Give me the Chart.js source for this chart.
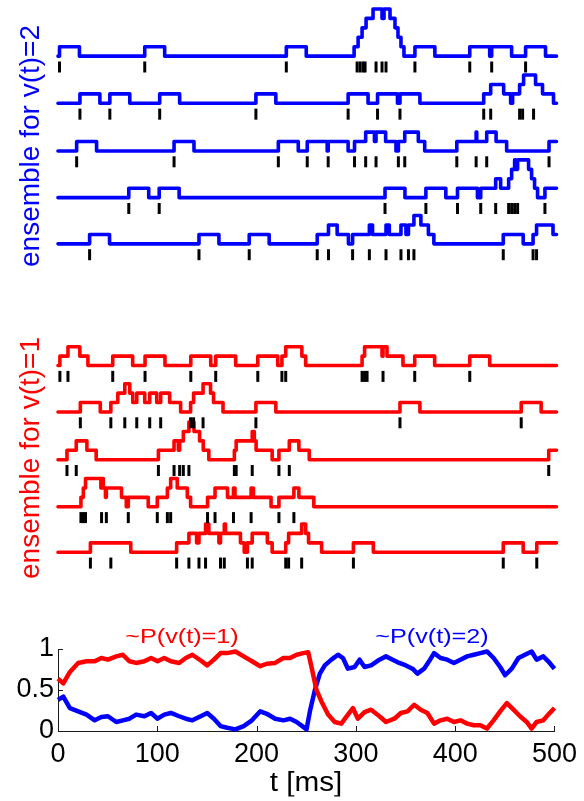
<!DOCTYPE html>
<html><head><meta charset="utf-8">
<script src="https://cdn.jsdelivr.net/npm/chart.js@4.4.1/dist/chart.umd.min.js"></script>
<style>
html,body{margin:0;padding:0;background:#fff;width:584px;height:801px;overflow:hidden;font-family:"Liberation Sans",Arial,Helvetica,sans-serif}
canvas{position:absolute;left:0}
.lab{position:absolute;white-space:nowrap;line-height:1}
</style></head><body>
<canvas id="cBlue" width="584" height="300" style="top:0px"></canvas>
<canvas id="cRed" width="584" height="290" style="top:310px"></canvas>
<canvas id="cP" width="584" height="201" style="top:600px"></canvas>
<div class="lab" style="left:30px;top:146px;transform:translate(-50%,-50%) rotate(-90deg);color:#0000ff;font-size:28px">ensemble for v(t)=2</div>
<div class="lab" style="left:30px;top:458px;transform:translate(-50%,-50%) rotate(-90deg);color:#ff0000;font-size:28px">ensemble for v(t)=1</div>
<div class="lab" style="left:182px;top:635px;transform:translate(-50%,-50%) scaleX(1.2);color:#ff0000;font-size:21px">~P(v(t)=1)</div>
<div class="lab" style="left:432px;top:635px;transform:translate(-50%,-50%) scaleX(1.2);color:#0000ff;font-size:21px">~P(v(t)=2)</div>
<div class="lab" style="left:306px;top:782px;transform:translate(-50%,-50%) scaleX(1.1);color:#000;font-size:27px">t [ms]</div>
<script>
// ---------- data ----------
const xTicks = [0, 100, 200, 300, 400, 500];
const yTicks = [0, 0.5, 1];

// spike times (ms) for the v(t)=2 ensemble
const blueSpikes1 = [1.5, 87, 229, 300, 303, 306, 308, 319, 325, 329, 358, 413, 435, 469];
const blueSpikes2 = [22, 52, 102, 198.5, 291, 320.5, 343, 427, 434, 463, 466, 477];
const blueSpikes3 = [18.7, 116.4, 221, 250, 271, 297.4, 308.6, 319, 341.4, 347.8, 400, 419.4, 430, 492.5];
const blueSpikes4 = [71, 101.5, 328, 369, 400.7, 424, 439, 452, 455, 458, 461, 488.4];
const blueSpikes5 = [31.7, 141.4, 191.8, 260, 271.3, 295.5, 312.3, 329, 344, 351.5, 357, 446.6, 476.5, 480];

// step traces [t, level] for the v(t)=2 ensemble (level holds from t onward)
const blueTrace1 = [[0,0],[1.5,1],[21.5,0],[87,1],[107,0],[229,1],[249,0],[297,1],[301,2],[305,3],[309,4],[316,5],[325,4],[327,5],[333,4],[338,3],[341,2],[344,1],[347,0],[358,1],[378,0],[413,1],[433,0],[435,1],[455,0],[469,1],[489,0],[500,0]];
const blueTrace2 = [[0,0],[22,1],[42,0],[52,1],[72,0],[102,1],[122,0],[198.5,1],[218.5,0],[291,1],[311,0],[320.5,1],[340.5,0],[343,1],[363,0],[427,1],[434,2],[447,1],[454,0],[456,1],[463,2],[467,3],[479,2],[486,1],[497,0],[500,0]];
const blueTrace3 = [[0,0],[18.7,1],[38.7,0],[116.4,1],[136.4,0],[221,1],[241,0],[250,1],[270,0],[271,1],[291,0],[297.4,1],[308.6,2],[317.4,1],[319,2],[328.6,1],[339,0],[341.4,1],[347.8,2],[361.4,1],[367.8,0],[400,1],[419.4,2],[420,1],[430,2],[439.4,1],[450,0],[492.5,1],[500,1]];
const blueTrace4 = [[0,0],[71,1],[91,0],[101.5,1],[121.5,0],[328,1],[348,0],[369,1],[389,0],[400.7,1],[420.7,0],[424,1],[439,2],[444,1],[452,2],[455,3],[458,4],[459,3],[461,4],[472,3],[475,2],[478,1],[481,0],[488.4,1],[500,1]];
const blueTrace5 = [[0,0],[31.7,1],[51.7,0],[141.4,1],[161.4,0],[191.8,1],[211.8,0],[260,1],[271.3,2],[280,1],[291.3,0],[295.5,1],[312.3,2],[315.5,1],[329,2],[332.3,1],[344,2],[349,1],[351.5,2],[357,3],[364,2],[371.5,1],[377,0],[446.6,1],[466.6,0],[476.5,1],[480,2],[496.5,1],[500,1]];

// spike times (ms) for the v(t)=1 ensemble
const redSpikes1 = [1.9, 10, 54.9, 87.3, 133.2, 158.2, 200.4, 224.6, 228.4, 305, 307.5, 310, 326, 357.8, 413];
const redSpikes2 = [22.4, 53, 67, 79, 92, 103, 133, 136, 145.5, 198.5, 343, 464.6];
const redSpikes3 = [9, 18.3, 100.7, 116.4, 122, 125.7, 131.3, 176.9, 178.7, 194.8, 221.6, 232, 492.2];
const redSpikes4 = [23, 25.4, 27.6, 43.7, 48.5, 70.5, 99.6, 109.7, 113, 150, 157.5, 176, 193.7, 221.6, 236.6];
const redSpikes5 = [32.5, 53, 119, 131.3, 141.4, 148, 163, 166.8, 190, 194.8, 228.4, 231.3, 244.4, 296.3, 446.6, 480.2];

// step traces [t, level] for the v(t)=1 ensemble
const redTrace1 = [[0,0],[1.9,1],[10,2],[21.9,1],[30,0],[54.9,1],[74.9,0],[87.3,1],[107.3,0],[133.2,1],[153.2,0],[158.2,1],[178.2,0],[200.4,1],[220.4,0],[224.6,1],[228.4,2],[244.6,1],[248.4,0],[305,1],[307.5,2],[325,1],[326,2],[330,1],[346,0],[357.8,1],[377.8,0],[413,1],[433,0],[500,0]];
const redTrace2 = [[0,0],[22.4,1],[42.4,0],[53,1],[60,2],[67,3],[72,2],[75,1],[79,2],[87,1],[92,2],[99,1],[103,2],[112,1],[123,0],[133,1],[136,2],[145.5,3],[153,2],[156,1],[165.5,0],[198.5,1],[218.5,0],[343,1],[363,0],[464.6,1],[484.6,0],[500,0]];
const redTrace3 = [[0,0],[9,1],[18.3,2],[29,1],[38.3,0],[100.7,1],[116.4,2],[120.7,1],[122,2],[125.7,3],[131.3,4],[136.4,3],[142,2],[145.7,1],[151.3,0],[176.9,1],[178.7,2],[194.8,3],[196.9,2],[198.7,1],[214.8,0],[221.6,1],[232,2],[241.6,1],[252,0],[492.2,1],[500,1]];
const redTrace4 = [[0,0],[23,1],[25.4,2],[27.6,3],[43,2],[43.7,3],[45.4,2],[47.6,1],[48.5,2],[63.7,1],[68.5,0],[70.5,1],[90.5,0],[99.6,1],[109.7,2],[113,3],[119.6,2],[129.7,1],[133,0],[150,1],[157.5,2],[170,1],[176,2],[177.5,1],[193.7,2],[196,1],[213.7,0],[221.6,1],[236.6,2],[241.6,1],[256.6,0],[500,0]];
const redTrace5 = [[0,0],[32.5,1],[73,0],[119,1],[131.3,2],[139,1],[141.4,2],[148,3],[151.3,2],[161.4,1],[163,2],[166.8,3],[168,2],[183,1],[186.8,0],[190,1],[194.8,2],[210,1],[214.8,0],[228.4,1],[231.3,2],[244.4,3],[248.4,2],[251.3,1],[264.4,0],[296.3,1],[316.3,0],[446.6,1],[466.6,0],[480.2,1],[500,1]];

// posterior probability estimates
const tRed = [0,5.3,12,20.3,28.7,37,43.7,50.3,58.7,65.3,72,78.7,87,93.7,100.3,107,113.7,122,128.7,135.3,143.7,150.3,157,163.7,170.3,178.7,187,195.3,203.7,210.3,218.7,227,233.7,240.3,247,252,255.3,260.3,265.3,272,278.7,285.3,292,297,302,308.7,315.3,323.7,330.3,338.7,345.3,352,358.7,365.3,372,378.7,385.3,392,398.7,405.3,412,418.7,425.3,432,438.7,445.3,452,458.7,465.3,472,477,482,488.7,493.7,500];
const pRed = [0.64,0.58,0.72,0.83,0.85,0.85,0.89,0.87,0.91,0.93,0.85,0.83,0.85,0.89,0.85,0.89,0.85,0.83,0.89,0.93,0.86,0.80,0.87,0.95,0.95,0.97,0.91,0.85,0.79,0.82,0.83,0.89,0.89,0.93,0.95,0.96,0.78,0.5,0.36,0.2,0.11,0.09,0.2,0.28,0.15,0.23,0.26,0.18,0.11,0.15,0.22,0.24,0.32,0.26,0.22,0.09,0.13,0.15,0.11,0.13,0.09,0.07,0.07,0.03,0.13,0.24,0.34,0.26,0.18,0.11,0.03,0.11,0.13,0.2,0.28];
const tBlue = [0,5.3,12,20.3,28.7,37,43.7,50.3,58.7,65.3,72,78.7,87,93.7,100.3,107,113.7,122,128.7,135.3,143.7,150.3,157,163.7,170.3,178.7,187,195.3,203.7,210.3,218.7,227,233.7,240.3,247,250.3,253.7,258.7,263.7,268.7,275.3,282,287,292,298.7,303.7,308.7,315.3,323.7,330.3,337,343.7,350.3,357,362,368.7,373.7,378.7,385.3,392,398.7,405.3,412,418.7,425.3,432,438.7,445.3,450.3,457,463.7,470.3,477,482,488.7,493.7,500];
const pBlue = [0.38,0.42,0.28,0.24,0.2,0.13,0.17,0.18,0.11,0.13,0.15,0.2,0.18,0.22,0.15,0.2,0.22,0.18,0.15,0.13,0.18,0.22,0.15,0.06,0.04,0.02,0.06,0.13,0.24,0.21,0.15,0.13,0.15,0.11,0.05,0.02,0.24,0.5,0.7,0.8,0.87,0.93,0.89,0.76,0.78,0.87,0.78,0.8,0.87,0.91,0.87,0.83,0.8,0.76,0.70,0.76,0.85,0.95,0.89,0.87,0.83,0.87,0.91,0.93,0.95,0.97,0.89,0.78,0.68,0.76,0.89,0.93,0.97,0.87,0.91,0.85,0.76];

// ---------- layout (pixels) ----------
const BLUE = '#0000ff', RED = '#ff0000';
const PLOT_LEFT = 58, PLOT_RIGHT_PAD = 584 - 556.5;
const LEVEL_PX = 10;       // one step level
const TICK_OFFSET = 11.5;  // spike mark centre below baseline

function rasterChart(id, canvasTop, height, baselines, traces, spikes, color) {
  const yMax = height / LEVEL_PX;
  const datasets = [];
  traces.forEach((tr, i) => {
    const base = (height - (baselines[i] - canvasTop)) / LEVEL_PX;
    datasets.push({
      data: tr.map(p => ({x: p[0], y: base + p[1]})),
      borderColor: color, borderWidth: 3.6, stepped: 'before',
      pointRadius: 0, fill: false, clip: false, borderJoinStyle: 'round', borderCapStyle: 'round'
    });
    const ty = base - TICK_OFFSET / LEVEL_PX;
    datasets.push({
      data: spikes[i].map(s => ({x: s, y: ty})),
      showLine: false, pointStyle: 'line', pointRotation: 90,
      pointRadius: 5.5, pointBorderWidth: 3, pointBorderColor: '#000', pointBackgroundColor: '#000',
      clip: false
    });
  });
  return new Chart(document.getElementById(id), {
    type: 'line',
    data: {datasets},
    options: {
      responsive: false, animation: false, events: [],
      layout: {padding: {left: PLOT_LEFT, right: PLOT_RIGHT_PAD, top: 0, bottom: 0}},
      plugins: {legend: {display: false}, tooltip: {enabled: false}},
      scales: {
        x: {type: 'linear', min: xTicks[0], max: xTicks[xTicks.length - 1], display: false},
        y: {type: 'linear', min: 0, max: yMax, display: false}
      }
    }
  });
}

rasterChart('cBlue', 0, 300, [50.5, 100.5, 151, 200.5, 249.5],
  [blueTrace1, blueTrace2, blueTrace3, blueTrace4, blueTrace5],
  [blueSpikes1, blueSpikes2, blueSpikes3, blueSpikes4, blueSpikes5], BLUE);
rasterChart('cRed', 310, 290, [360, 409.3, 460, 510, 558.3],
  [redTrace1, redTrace2, redTrace3, redTrace4, redTrace5],
  [redSpikes1, redSpikes2, redSpikes3, redSpikes4, redSpikes5], RED);

// inward tick marks (box off, MATLAB style)
const inwardTicks = {
  id: 'inwardTicks',
  afterDatasetsDraw(chart) {
    const {ctx, scales: {x, y}, chartArea: a} = chart;
    ctx.save();
    ctx.strokeStyle = '#1a1a1a'; ctx.lineWidth = 1;
    ctx.beginPath();
    xTicks.forEach(v => { const px = Math.round(x.getPixelForValue(v)) + 0.5; ctx.moveTo(px, a.bottom); ctx.lineTo(px, a.bottom - 5); });
    yTicks.forEach(v => { const py = Math.round(y.getPixelForValue(v)) + 0.5; ctx.moveTo(a.left, py); ctx.lineTo(a.left + 5, py); });
    ctx.stroke();
    ctx.restore();
  }
};

new Chart(document.getElementById('cP'), {
  type: 'line',
  data: {
    datasets: [
      {data: tRed.map((t, i) => ({x: t, y: pRed[i]})), borderColor: RED, borderWidth: 4.5, pointRadius: 0, tension: 0, clip: false, borderJoinStyle: 'round'},
      {data: tBlue.map((t, i) => ({x: t, y: pBlue[i]})), borderColor: BLUE, borderWidth: 4.5, pointRadius: 0, tension: 0, clip: false, borderJoinStyle: 'round'}
    ]
  },
  options: {
    responsive: false, animation: false, events: [],
    layout: {padding: {left: 0, right: PLOT_RIGHT_PAD, top: 49, bottom: 0}},
    plugins: {legend: {display: false}, tooltip: {enabled: false}},
    scales: {
      x: {
        type: 'linear', min: 0, max: 500,
        afterBuildTicks: s => { s.ticks = xTicks.map(v => ({value: v})); },
        afterFit: s => { s.height = 70; },
        grid: {display: false, drawTicks: false},
        border: {display: true, color: '#1a1a1a', width: 1},
        ticks: {color: '#000', font: {family: 'Liberation Sans', size: 27}, padding: 7, maxRotation: 0, callback: v => String(v)}
      },
      y: {
        type: 'linear', min: 0, max: 1,
        afterBuildTicks: s => { s.ticks = yTicks.map(v => ({value: v})); },
        afterFit: s => { s.width = PLOT_LEFT; },
        grid: {display: false, drawTicks: false},
        border: {display: true, color: '#1a1a1a', width: 1},
        ticks: {color: '#000', font: {family: 'Liberation Sans', size: 27}, padding: 4, callback: v => String(v)}
      }
    }
  },
  plugins: [inwardTicks]
});
</script>
</body></html>
